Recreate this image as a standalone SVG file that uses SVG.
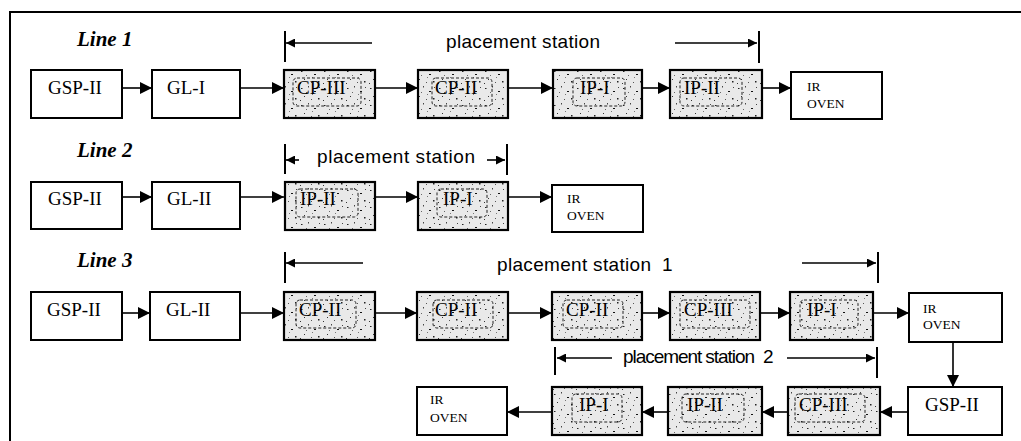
<svg xmlns="http://www.w3.org/2000/svg" width="1021" height="441" viewBox="0 0 1021 441">
<style>
.frame{fill:none;stroke:#000;stroke-width:2}
.box{fill:#fff;stroke:#000;stroke-width:2}
.sbox{fill:url(#stip);stroke:#000;stroke-width:2.2}
.inner{fill:none;stroke:#222;stroke-width:1;stroke-dasharray:3 2}
.lbl{font-family:"Liberation Serif",serif;font-size:19px;fill:#000}
.ir{font-family:"Liberation Serif",serif;font-size:13.5px;fill:#000}
.line{font-family:"Liberation Serif",serif;font-size:21px;font-weight:bold;font-style:italic;fill:#000}
.ps{font-family:"Liberation Sans",sans-serif;font-size:19px;fill:#000}
.c{fill:none;stroke:#000;stroke-width:1.6}
.bar{fill:none;stroke:#000;stroke-width:2}
</style>
<defs>
<pattern id="stip" width="23" height="17" patternUnits="userSpaceOnUse">
<rect width="23" height="17" fill="#e9e9e9"/>
<rect x="2" y="3" width="1.5" height="1" fill="#222"/>
<rect x="9" y="1" width="1" height="1.5" fill="#444"/>
<rect x="15" y="6" width="2" height="1" fill="#111"/>
<rect x="5" y="11" width="1" height="1" fill="#333"/>
<rect x="19" y="13" width="1.5" height="1.5" fill="#222"/>
<rect x="12" y="14" width="1" height="1" fill="#555"/>
<rect x="7" y="7" width="1" height="1" fill="#666"/>
<rect x="20" y="2" width="1" height="1" fill="#444"/>
<rect x="1" y="15" width="1" height="1" fill="#333"/>
<rect x="13" y="9" width="1" height="1" fill="#777"/>
</pattern>
<marker id="ah" viewBox="0 0 12 12" refX="12" refY="6" markerWidth="12" markerHeight="12" markerUnits="userSpaceOnUse" orient="auto">
<path d="M0,0 L12,6 L0,12 z" fill="#000"/>
</marker>
<marker id="as" viewBox="0 0 10 10" refX="10" refY="5" markerWidth="10" markerHeight="9" markerUnits="userSpaceOnUse" orient="auto">
<path d="M0,0 L10,5 L0,10 z" fill="#000"/>
</marker>
</defs>
<rect width="1021" height="441" fill="#fff"/>
<path class="frame" d="M10,441 V12 H1021"/>

<text class="line" x="77" y="46">Line 1</text>
<text class="line" x="77" y="157">Line 2</text>
<text class="line" x="77" y="267">Line 3</text>

<g id="ps1">
<path class="bar" d="M285,31 V62 M759,31 V63"/>
<line class="c" x1="372" y1="43" x2="286" y2="43" marker-end="url(#as)"/>
<line class="c" x1="675" y1="43" x2="757" y2="43" marker-end="url(#as)"/>
<text class="ps" x="446" y="48" textLength="154">placement station</text>
</g>
<g id="ps2">
<path class="bar" d="M285,144 V174 M507,144 V175"/>
<line class="c" x1="299" y1="160" x2="286" y2="160" marker-end="url(#as)"/>
<line class="c" x1="487" y1="160" x2="505" y2="160" marker-end="url(#as)"/>
<text class="ps" x="317" y="163" textLength="158">placement station</text>
</g>
<g id="ps3">
<path class="bar" d="M285,252 V283 M878,252 V283"/>
<line class="c" x1="363" y1="263" x2="286" y2="263" marker-end="url(#as)"/>
<line class="c" x1="802" y1="263" x2="876" y2="263" marker-end="url(#as)"/>
<text class="ps" x="497" y="271" textLength="154">placement station</text>
<text class="ps" x="662" y="271">1</text>
</g>
<g id="ps4">
<path class="bar" d="M555,347 V375 M877,347 V378"/>
<line class="c" x1="612" y1="358" x2="557" y2="358" marker-end="url(#as)"/>
<line class="c" x1="787" y1="358" x2="875" y2="358" marker-end="url(#as)"/>
<text class="ps" x="623" y="363" textLength="132">placement station</text>
<text class="ps" x="763" y="363">2</text>
</g>

<g id="connectors">
<line class="c" x1="122" y1="88" x2="152" y2="88" marker-end="url(#ah)"/>
<line class="c" x1="240" y1="88" x2="284" y2="88" marker-end="url(#ah)"/>
<line class="c" x1="375" y1="88" x2="418" y2="88" marker-end="url(#ah)"/>
<line class="c" x1="508" y1="88" x2="553" y2="88" marker-end="url(#ah)"/>
<line class="c" x1="642" y1="88" x2="670" y2="88" marker-end="url(#ah)"/>
<line class="c" x1="762" y1="88" x2="791" y2="88" marker-end="url(#ah)"/>

<line class="c" x1="122" y1="197" x2="152" y2="197" marker-end="url(#ah)"/>
<line class="c" x1="240" y1="197" x2="284" y2="197" marker-end="url(#ah)"/>
<line class="c" x1="375" y1="197" x2="418" y2="197" marker-end="url(#ah)"/>
<line class="c" x1="508" y1="197" x2="552" y2="197" marker-end="url(#ah)"/>

<line class="c" x1="122" y1="313" x2="150" y2="313" marker-end="url(#ah)"/>
<line class="c" x1="240" y1="313" x2="284" y2="313" marker-end="url(#ah)"/>
<line class="c" x1="375" y1="313" x2="417" y2="313" marker-end="url(#ah)"/>
<line class="c" x1="508" y1="313" x2="552" y2="313" marker-end="url(#ah)"/>
<line class="c" x1="642" y1="313" x2="670" y2="313" marker-end="url(#ah)"/>
<line class="c" x1="760" y1="313" x2="790" y2="313" marker-end="url(#ah)"/>
<line class="c" x1="873" y1="313" x2="909" y2="313" marker-end="url(#ah)"/>

<line class="c" x1="953" y1="342" x2="953" y2="387" marker-end="url(#ah)"/>
<line class="c" x1="908" y1="412" x2="880" y2="412" marker-end="url(#ah)"/>
<line class="c" x1="788" y1="412" x2="762" y2="412" marker-end="url(#ah)"/>
<line class="c" x1="668" y1="412" x2="642" y2="412" marker-end="url(#ah)"/>
<line class="c" x1="552" y1="412" x2="507" y2="412" marker-end="url(#ah)"/>
</g>

<!-- Line 1 -->
<g id="l1-gsp"><rect class="box" x="31" y="70" width="91" height="48"/><text class="lbl" x="48" y="94">GSP-II</text></g>
<g id="l1-gl"><rect class="box" x="152" y="70" width="88" height="48"/><text class="lbl" x="167" y="94">GL-I</text></g>
<g id="l1-cp3"><rect class="sbox" x="284" y="70" width="91" height="48"/><rect class="inner" x="293" y="78" width="68" height="28" rx="4"/><text class="lbl" x="297" y="94">CP-III</text></g>
<g id="l1-cp2"><rect class="sbox" x="418" y="70" width="90" height="48"/><rect class="inner" x="432" y="78" width="60" height="28" rx="4"/><text class="lbl" x="435" y="94">CP-II</text></g>
<g id="l1-ip1"><rect class="sbox" x="553" y="70" width="89" height="48"/><rect class="inner" x="573" y="78" width="52" height="28" rx="4"/><text class="lbl" x="580" y="94">IP-I</text></g>
<g id="l1-ip2"><rect class="sbox" x="670" y="70" width="92" height="48"/><rect class="inner" x="680" y="78" width="62" height="28" rx="4"/><text class="lbl" x="684" y="94">IP-II</text></g>
<g id="l1-ir"><rect class="box" x="791" y="72" width="91" height="47"/><text class="ir" x="807" y="91">IR</text><text class="ir" x="807" y="108">OVEN</text></g>

<!-- Line 2 -->
<g id="l2-gsp"><rect class="box" x="31" y="182" width="91" height="47"/><text class="lbl" x="48" y="205">GSP-II</text></g>
<g id="l2-gl"><rect class="box" x="152" y="182" width="88" height="47"/><text class="lbl" x="167" y="205">GL-II</text></g>
<g id="l2-ip2"><rect class="sbox" x="285" y="182" width="90" height="48"/><rect class="inner" x="296" y="189" width="62" height="28" rx="4"/><text class="lbl" x="300" y="205">IP-II</text></g>
<g id="l2-ip1"><rect class="sbox" x="418" y="182" width="90" height="48"/><rect class="inner" x="437" y="189" width="50" height="28" rx="4"/><text class="lbl" x="443" y="205">IP-I</text></g>
<g id="l2-ir"><rect class="box" x="552" y="185" width="91" height="47"/><text class="ir" x="567" y="203">IR</text><text class="ir" x="567" y="220">OVEN</text></g>

<!-- Line 3 -->
<g id="l3-gsp"><rect class="box" x="31" y="292" width="91" height="48"/><text class="lbl" x="47" y="316">GSP-II</text></g>
<g id="l3-gl"><rect class="box" x="150" y="292" width="90" height="48"/><text class="lbl" x="166" y="316">GL-II</text></g>
<g id="l3-cp2a"><rect class="sbox" x="284" y="292" width="91" height="48"/><rect class="inner" x="296" y="300" width="60" height="28" rx="4"/><text class="lbl" x="299" y="316">CP-II</text></g>
<g id="l3-cp2b"><rect class="sbox" x="417" y="292" width="91" height="48"/><rect class="inner" x="433" y="300" width="60" height="28" rx="4"/><text class="lbl" x="435" y="316">CP-II</text></g>
<g id="l3-cp2c"><rect class="sbox" x="552" y="292" width="90" height="48"/><rect class="inner" x="563" y="300" width="60" height="28" rx="4"/><text class="lbl" x="566" y="316">CP-II</text></g>
<g id="l3-cp3"><rect class="sbox" x="670" y="292" width="90" height="48"/><rect class="inner" x="680" y="300" width="70" height="28" rx="4"/><text class="lbl" x="684" y="316">CP-III</text></g>
<g id="l3-ip1"><rect class="sbox" x="790" y="292" width="83" height="48"/><rect class="inner" x="800" y="300" width="58" height="28" rx="4"/><text class="lbl" x="807" y="316">IP-I</text></g>
<g id="l3-ir"><rect class="box" x="909" y="293" width="93" height="49"/><text class="ir" x="923" y="313">IR</text><text class="ir" x="923" y="329">OVEN</text></g>

<!-- Line 3 return -->
<g id="l3-gsp2"><rect class="box" x="908" y="387" width="94" height="48"/><text class="lbl" x="925" y="411">GSP-II</text></g>
<g id="l3-cp3b"><rect class="sbox" x="788" y="387" width="92" height="48"/><rect class="inner" x="795" y="394" width="70" height="28" rx="4"/><text class="lbl" x="799" y="411">CP-III</text></g>
<g id="l3-ip2"><rect class="sbox" x="668" y="387" width="94" height="48"/><rect class="inner" x="682" y="394" width="62" height="28" rx="4"/><text class="lbl" x="687" y="411">IP-II</text></g>
<g id="l3-ip1b"><rect class="sbox" x="552" y="387" width="90" height="48"/><rect class="inner" x="572" y="394" width="50" height="28" rx="4"/><text class="lbl" x="579" y="411">IP-I</text></g>
<g id="l3-ir2"><rect class="box" x="417" y="387" width="90" height="48"/><text class="ir" x="430" y="404">IR</text><text class="ir" x="430" y="422">OVEN</text></g>
</svg>
